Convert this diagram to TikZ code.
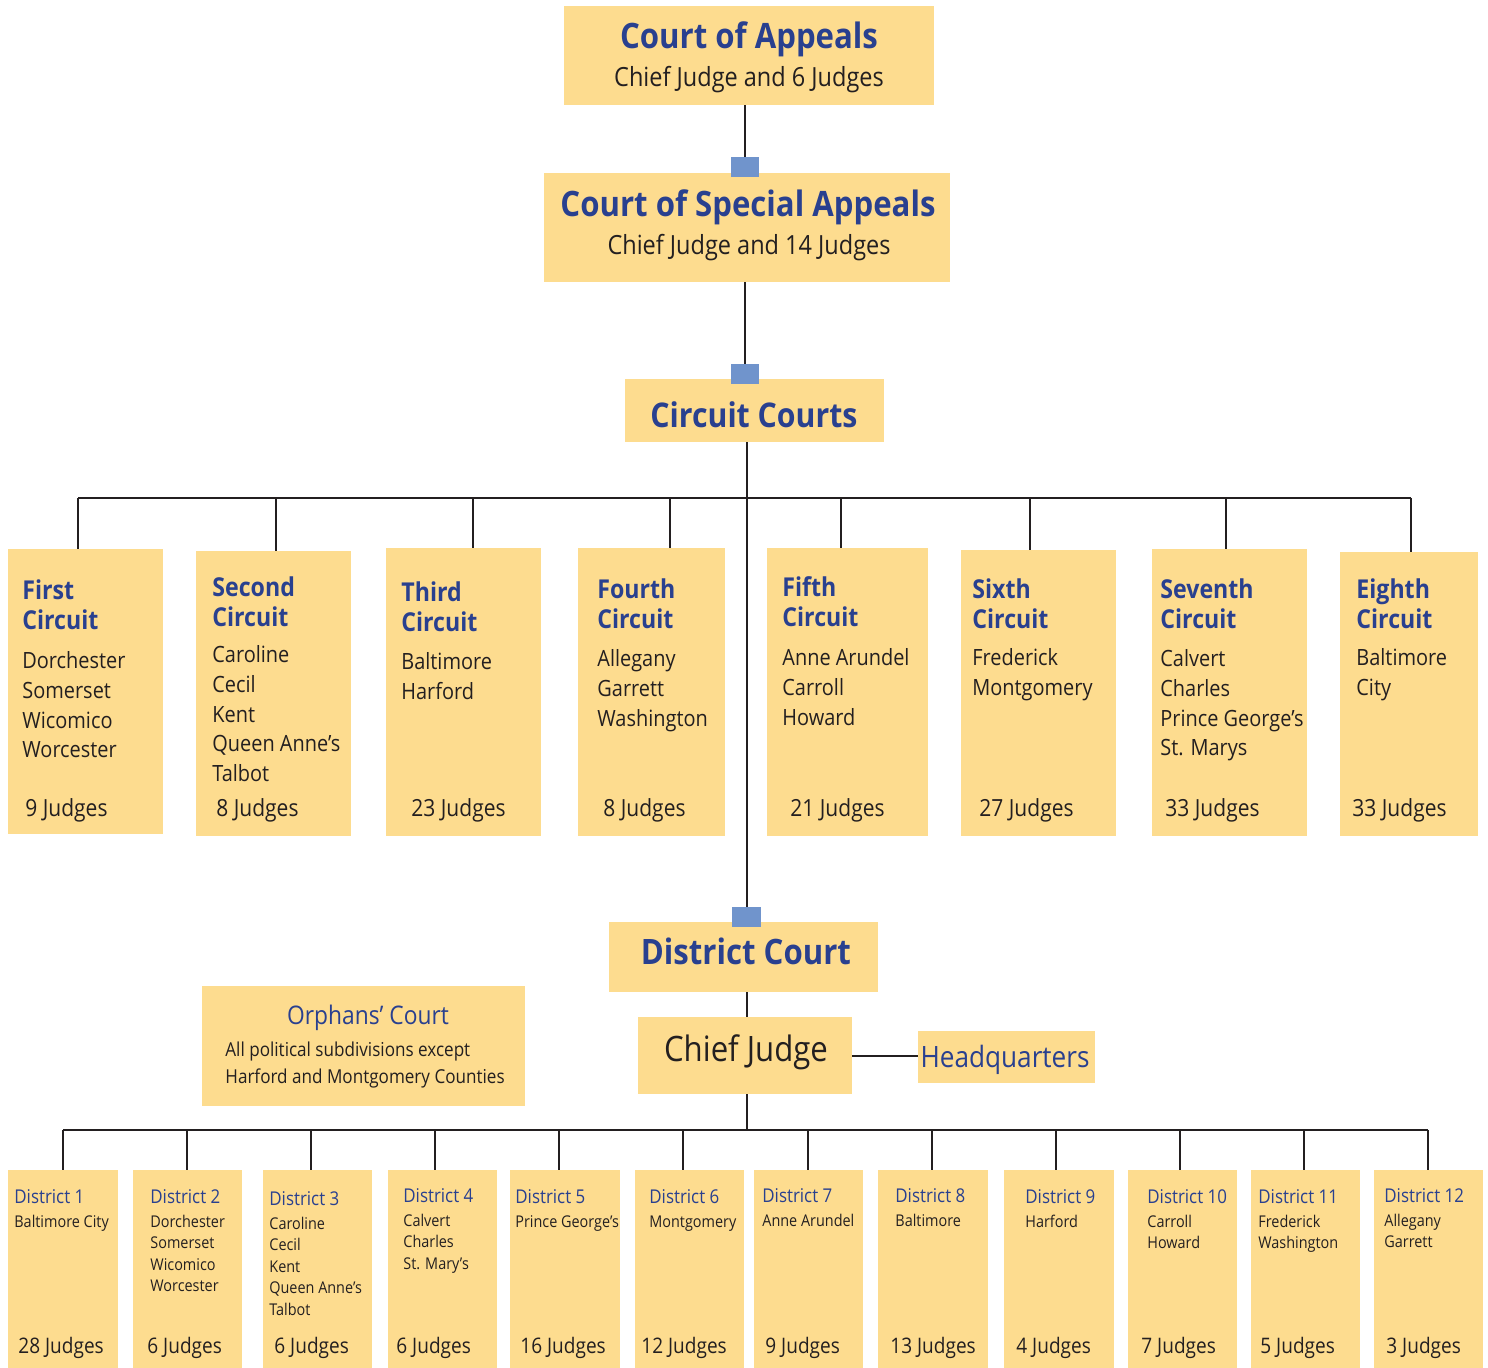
\documentclass[tikz,border=0pt]{standalone}
\usepackage{fontspec}
\setmainfont[FakeStretch=0.89]{Open Sans}
\usetikzlibrary{fit}
\definecolor{boxfill}{HTML}{FDDC8F}
\definecolor{titleblue}{HTML}{29408F}
\definecolor{sqblue}{HTML}{7094CC}
\definecolor{inkc}{HTML}{231F20}
\newcommand\cellist[1]{\begin{tabular}[t]{@{}l@{}}#1\end{tabular}}
\tikzset{
  box/.style={fill=boxfill, inner sep=0pt, draw=none},
  sq/.style={fill=sqblue, inner sep=0pt, draw=none},
  lnk/.style={draw=inkc, line width=1pt},
  bigttl/.style={font=\bfseries\fontsize{17.5}{20}\selectfont, text=titleblue, anchor=base, inner sep=0pt},
  subttl/.style={font=\fontsize{13.2}{15}\selectfont, text=inkc, anchor=base, inner sep=0pt},
  cttl/.style={font=\bfseries\fontsize{13}{15}\selectfont, text=titleblue, anchor=base west, inner sep=0pt},
  ccty/.style={font=\fontsize{11.2}{14.8}\selectfont, text=inkc, anchor=base west, inner sep=0pt},
  cjdg/.style={font=\fontsize{11.8}{14}\selectfont, text=inkc, anchor=base west, inner sep=0pt},
  dttl/.style={font=\fontsize{9.5}{11}\selectfont, text=titleblue, anchor=base west, inner sep=0pt},
  dcty/.style={font=\fontsize{8.1}{10.75}\selectfont, text=inkc, anchor=base west, inner sep=0pt},
  djdg/.style={font=\fontsize{10.7}{12}\selectfont, text=inkc, anchor=base west, inner sep=0pt}
}
\begin{document}
\begin{tikzpicture}[x=0.5pt,y=-0.5pt]
  \useasboundingbox (0,0) rectangle (1488,1368);
  \node[box, fit={(564,6) (934,105)}] (ca) {};
  \node[box, fit={(544,173) (950,282)}] (csa) {};
  \node[box, fit={(625,379) (884,442)}] (cc) {};
  \node[box, fit={(609,922) (878,992)}] (dc) {};
  \node[box, fit={(638,1017) (852,1094)}] (cj) {};
  \node[box, fit={(918,1031) (1095,1083)}] (hq) {};
  \node[box, fit={(202,986) (525,1106)}] (oc) {};
  \node[box, fit={(8,549) (163,834)}] (c1) {};
  \node[box, fit={(196,551) (351,836)}] (c2) {};
  \node[box, fit={(386,548) (541,836)}] (c3) {};
  \node[box, fit={(578,548) (725,836)}] (c4) {};
  \node[box, fit={(767,548) (928,836)}] (c5) {};
  \node[box, fit={(961,550) (1116,836)}] (c6) {};
  \node[box, fit={(1152,549) (1307,836)}] (c7) {};
  \node[box, fit={(1340,552) (1478,836)}] (c8) {};
  \node[box, fit={(8,1170) (118,1368)}] (d1) {};
  \node[box, fit={(133,1170) (242,1368)}] (d2) {};
  \node[box, fit={(263,1170) (372,1368)}] (d3) {};
  \node[box, fit={(388,1170) (497,1368)}] (d4) {};
  \node[box, fit={(510,1170) (620,1368)}] (d5) {};
  \node[box, fit={(635,1170) (744,1368)}] (d6) {};
  \node[box, fit={(754,1170) (863,1368)}] (d7) {};
  \node[box, fit={(878,1170) (988,1368)}] (d8) {};
  \node[box, fit={(1004,1170) (1114,1368)}] (d9) {};
  \node[box, fit={(1128,1170) (1237,1368)}] (d10) {};
  \node[box, fit={(1251,1170) (1360,1368)}] (d11) {};
  \node[box, fit={(1374,1170) (1483,1368)}] (d12) {};

  \coordinate (b1) at (78,498);
  \coordinate (b2) at (276,498);
  \coordinate (b3) at (473,498);
  \coordinate (b4) at (670,498);
  \coordinate (b5) at (841,498);
  \coordinate (b6) at (1030,498);
  \coordinate (b7) at (1226,498);
  \coordinate (b8) at (1411,498);
  \coordinate (e1) at (63,1130);
  \coordinate (e2) at (187,1130);
  \coordinate (e3) at (311,1130);
  \coordinate (e4) at (435,1130);
  \coordinate (e5) at (559,1130);
  \coordinate (e6) at (683,1130);
  \coordinate (e7) at (808,1130);
  \coordinate (e8) at (932,1130);
  \coordinate (e9) at (1056,1130);
  \coordinate (e10) at (1180,1130);
  \coordinate (e11) at (1304,1130);
  \coordinate (e12) at (1428,1130);

  \node[sq, fit={(731,157) (759,177)}] (s1) {};
  \node[sq, fit={(731,364) (759,384)}] (s2) {};
  \node[sq, fit={(732,907) (761,927)}] (s3) {};

  \begin{scope}[lnk]
    \draw (s1.north) -- (s1.north |- ca.south);
    \draw (s2.north) -- (s2.north |- csa.south);
    \draw (s3.north) -- (s3.north |- cc.south);
    \draw (b1) -- (b8);
    \draw (b1) -- (b1 |- c1.north);
    \draw (b2) -- (b2 |- c2.north);
    \draw (b3) -- (b3 |- c3.north);
    \draw (b4) -- (b4 |- c4.north);
    \draw (b5) -- (b5 |- c5.north);
    \draw (b6) -- (b6 |- c6.north);
    \draw (b7) -- (b7 |- c7.north);
    \draw (b8) -- (b8 |- c8.north);
    \draw (s3.north |- dc.south) -- (s3.north |- cj.north);
    \draw (cj.east) -- (cj.east -| hq.west);
    \draw (s3.north |- cj.south) -- (s3.north |- e1);
    \draw (e1) -- (e12);
    \draw (e1) -- (e1 |- d1.north);
    \draw (e2) -- (e2 |- d2.north);
    \draw (e3) -- (e3 |- d3.north);
    \draw (e4) -- (e4 |- d4.north);
    \draw (e5) -- (e5 |- d5.north);
    \draw (e6) -- (e6 |- d6.north);
    \draw (e7) -- (e7 |- d7.north);
    \draw (e8) -- (e8 |- d8.north);
    \draw (e9) -- (e9 |- d9.north);
    \draw (e10) -- (e10 |- d10.north);
    \draw (e11) -- (e11 |- d11.north);
    \draw (e12) -- (e12 |- d12.north);
  \end{scope}

  \node[bigttl] (ca-t) at (749,49) {Court of Appeals};
  \node[subttl] (ca-s) at (749,87) {Chief Judge and 6 Judges};
  \node[bigttl] (csa-t) at (748,217) {Court of Special Appeals};
  \node[subttl] (csa-s) at (749,255) {Chief Judge and 14 Judges};
  \node[bigttl, font=\bfseries\fontsize{17}{20}\selectfont] (cc-t) at (754,428) {Circuit Courts};
  \node[bigttl] (dc-t) at (746,964) {District Court};
  \node[subttl, font=\fontsize{17.5}{20}\selectfont] (cj-t) at (746,1061) {Chief Judge};
  \node[subttl, font=\fontsize{14.7}{17}\selectfont, text=titleblue] (hq-t) at (1005,1067) {Headquarters};
  \node[subttl, font=\fontsize{12.8}{15}\selectfont, text=titleblue] (oc-t) at (368,1024) {Orphans’ Court};
  \node[ccty, font=\fontsize{9.6}{13.5}\selectfont] (oc-s) at (225,1056) {\cellist{All political subdivisions except\\Harford and Montgomery Counties}};

  \node[cttl] (c1-t) at (22,600) {\cellist{First\\Circuit}};
  \node[ccty] (c1-c) at (22,669) {\cellist{Dorchester\\Somerset\\Wicomico\\Worcester}};
  \node[cjdg] (c1-j) at (25,816) {9 Judges};
  \node[cttl] (c2-t) at (212,597) {\cellist{Second\\Circuit}};
  \node[ccty] (c2-c) at (212,663) {\cellist{Caroline\\Cecil\\Kent\\Queen Anne’s\\Talbot}};
  \node[cjdg] (c2-j) at (216,816) {8 Judges};
  \node[cttl] (c3-t) at (401,602) {\cellist{Third\\Circuit}};
  \node[ccty] (c3-c) at (401,670) {\cellist{Baltimore\\Harford}};
  \node[cjdg] (c3-j) at (411,816) {23 Judges};
  \node[cttl] (c4-t) at (597,599) {\cellist{Fourth\\Circuit}};
  \node[ccty] (c4-c) at (597,667) {\cellist{Allegany\\Garrett\\Washington}};
  \node[cjdg] (c4-j) at (603,816) {8 Judges};
  \node[cttl] (c5-t) at (782,597) {\cellist{Fifth\\Circuit}};
  \node[ccty] (c5-c) at (782,666) {\cellist{Anne Arundel\\Carroll\\Howard}};
  \node[cjdg] (c5-j) at (790,816) {21 Judges};
  \node[cttl] (c6-t) at (972,599) {\cellist{Sixth\\Circuit}};
  \node[ccty] (c6-c) at (972,666) {\cellist{Frederick\\Montgomery}};
  \node[cjdg] (c6-j) at (979,816) {27 Judges};
  \node[cttl] (c7-t) at (1160,599) {\cellist{Seventh\\Circuit}};
  \node[ccty] (c7-c) at (1160,667) {\cellist{Calvert\\Charles\\Prince George’s\\St. Marys}};
  \node[cjdg] (c7-j) at (1165,816) {33 Judges};
  \node[cttl] (c8-t) at (1356,599) {\cellist{Eighth\\Circuit}};
  \node[ccty] (c8-c) at (1356,666) {\cellist{Baltimore\\City}};
  \node[cjdg] (c8-j) at (1352,816) {33 Judges};

  \node[dttl] (d1-t) at (14,1203) {District 1};
  \node[dcty] (d1-c) at (14,1227) {\cellist{Baltimore City}};
  \node[djdg] (d1-j) at (18,1353) {28 Judges};
  \node[dttl] (d2-t) at (150,1203) {District 2};
  \node[dcty] (d2-c) at (150,1227) {\cellist{Dorchester\\Somerset\\Wicomico\\Worcester}};
  \node[djdg] (d2-j) at (147,1353) {6 Judges};
  \node[dttl] (d3-t) at (269,1205) {District 3};
  \node[dcty] (d3-c) at (269,1229) {\cellist{Caroline\\Cecil\\Kent\\Queen Anne’s\\Talbot}};
  \node[djdg] (d3-j) at (274,1353) {6 Judges};
  \node[dttl] (d4-t) at (403,1202) {District 4};
  \node[dcty] (d4-c) at (403,1226) {\cellist{Calvert\\Charles\\St. Mary’s}};
  \node[djdg] (d4-j) at (396,1353) {6 Judges};
  \node[dttl] (d5-t) at (515,1203) {District 5};
  \node[dcty] (d5-c) at (515,1227) {\cellist{Prince George’s}};
  \node[djdg] (d5-j) at (520,1353) {16 Judges};
  \node[dttl] (d6-t) at (649,1203) {District 6};
  \node[dcty] (d6-c) at (649,1227) {\cellist{Montgomery}};
  \node[djdg] (d6-j) at (641,1353) {12 Judges};
  \node[dttl] (d7-t) at (762,1202) {District 7};
  \node[dcty] (d7-c) at (762,1226) {\cellist{Anne Arundel}};
  \node[djdg] (d7-j) at (765,1353) {9 Judges};
  \node[dttl] (d8-t) at (895,1202) {District 8};
  \node[dcty] (d8-c) at (895,1226) {\cellist{Baltimore}};
  \node[djdg] (d8-j) at (890,1353) {13 Judges};
  \node[dttl] (d9-t) at (1025,1203) {District 9};
  \node[dcty] (d9-c) at (1025,1227) {\cellist{Harford}};
  \node[djdg] (d9-j) at (1016,1353) {4 Judges};
  \node[dttl] (d10-t) at (1147,1203) {District 10};
  \node[dcty] (d10-c) at (1147,1227) {\cellist{Carroll\\Howard}};
  \node[djdg] (d10-j) at (1141,1353) {7 Judges};
  \node[dttl] (d11-t) at (1258,1203) {District 11};
  \node[dcty] (d11-c) at (1258,1227) {\cellist{Frederick\\Washington}};
  \node[djdg] (d11-j) at (1260,1353) {5 Judges};
  \node[dttl] (d12-t) at (1384,1202) {District 12};
  \node[dcty] (d12-c) at (1384,1226) {\cellist{Allegany\\Garrett}};
  \node[djdg] (d12-j) at (1386,1353) {3 Judges};
\end{tikzpicture}
\end{document}
